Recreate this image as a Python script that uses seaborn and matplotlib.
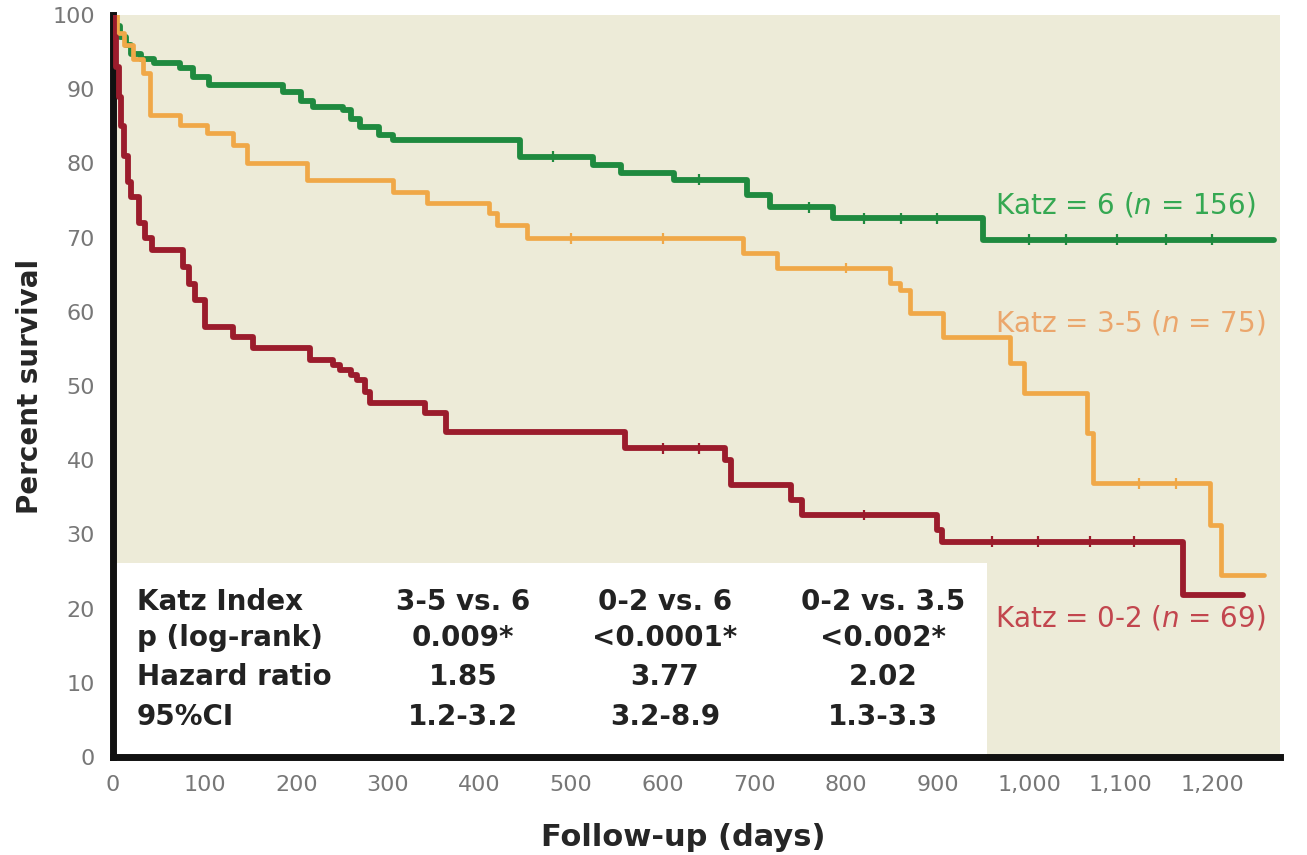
import matplotlib
matplotlib.use("Agg")
import matplotlib.pyplot as plt
import numpy as np
import pandas as pd
import seaborn as sns
from matplotlib.patches import Rectangle

# Kaplan-Meier step data (days, percent survival)
katz6_days = [0, 3, 8, 14, 20, 30, 45, 73, 87, 105, 185, 205, 218, 251, 260, 270,
              290, 306, 444, 524, 554, 612, 692, 717, 786, 950, 1267]
katz6_surv = [100, 98.5, 97, 96, 94.8, 94, 93.5, 92.9, 91.6, 90.6, 89.6, 88.4, 87.6,
              87.2, 86, 84.9, 83.8, 83.2, 80.9, 79.8, 78.7, 77.8, 75.7, 74.1, 72.6,
              69.7, 69.7]

katz35_days = [0, 4, 12, 22, 33, 40, 73, 103, 131, 146, 212, 306, 343, 410, 419, 452,
               688, 725, 848, 859, 870, 906, 979, 994, 1063, 1070, 1198, 1209, 1256]
katz35_surv = [100, 97.6, 96, 94, 92.2, 86.5, 85.2, 84.1, 82.5, 80.1, 77.8, 76.1, 74.7,
               73.3, 71.7, 69.9, 67.9, 65.9, 63.9, 62.9, 59.8, 56.6, 53.1, 49.1, 43.7,
               36.9, 31.3, 24.5, 24.5]

katz02_days = [0, 1, 3, 6, 9, 12, 16, 20, 28, 35, 42, 76, 83, 90, 100, 131, 153, 215,
               240, 248, 260, 266, 275, 281, 340, 363, 559, 668, 675, 740, 752, 900,
               905, 1168, 1234]
katz02_surv = [100, 97, 93, 89, 85, 81, 77.5, 75.5, 72, 70, 68.3, 66, 63.8, 61.6, 58.0,
               56.6, 55.1, 53.5, 52.8, 52.2, 51.5, 50.8, 49.2, 47.7, 46.4, 43.8, 41.6,
               40.0, 36.7, 34.6, 32.6, 30.6, 29.0, 21.8, 21.8]

# censoring marks (days)
katz6_cens = [480, 640, 760, 820, 860, 900, 1000, 1040, 1096, 1150, 1200]
katz35_cens = [500, 600, 800, 1120, 1160]
katz02_cens = [600, 640, 820, 960, 1010, 1067, 1114]

groups = ["Katz = 6", "Katz = 3-5", "Katz = 0-2"]
curve_labels = ["Katz = 6 ($n$ = 156)", "Katz = 3-5 ($n$ = 75)", "Katz = 0-2 ($n$ = 69)"]
label_y = [74.4, 58.5, 18.7]

line_colors = ["#1f8a3f", "#f0a848", "#9b1c2c"]
line_widths = [4.2, 3.4, 4.2]
text_colors = ["#35a852", "#eba66c", "#c2464e"]

table_header = ["Katz Index", "3-5 vs. 6", "0-2 vs. 6", "0-2 vs. 3.5"]
table_rows = [
    ["p (log-rank)", "0.009*", "<0.0001*", "<0.002*"],
    ["Hazard ratio", "1.85", "3.77", "2.02"],
    ["95%CI", "1.2-3.2", "3.2-8.9", "1.3-3.3"],
]

x_ticks = list(range(0, 1300, 100))
x_ticklabels = ["0", "100", "200", "300", "400", "500", "600", "700", "800", "900",
                "1,000", "1,100", "1,200"]
y_ticks = list(range(0, 110, 10))

all_days = [katz6_days, katz35_days, katz02_days]
all_surv = [katz6_surv, katz35_surv, katz02_surv]
all_cens = [katz6_cens, katz35_cens, katz02_cens]

df = pd.concat([
    pd.DataFrame({"group": g, "days": d, "survival": s})
    for g, d, s in zip(groups, all_days, all_surv)
], ignore_index=True)


def step_value(days, surv, t):
    idx = np.searchsorted(days, t, side="right") - 1
    return np.asarray(surv)[idx]


cens = pd.concat([
    pd.DataFrame({"group": g, "days": c, "survival": step_value(d, s, c)})
    for g, d, s, c in zip(groups, all_days, all_surv, all_cens)
], ignore_index=True)

sns.set_style("white")
plt.rcParams["font.family"] = ["DejaVu Sans"]

fig = plt.figure(figsize=(13.07, 8.55), dpi=100)
ax = fig.add_axes([0.0865, 0.1146, 0.8929, 0.8679])
ax.set_facecolor("#edebd8")

palette = dict(zip(groups, line_colors))
sns.lineplot(data=df, x="days", y="survival", hue="group", hue_order=groups,
             palette=palette, estimator=None, sort=False,
             drawstyle="steps-post", linewidth=3.5, legend=False, ax=ax, zorder=3)
for line, lw in zip(ax.lines, line_widths):
    line.set_linewidth(lw)

sns.scatterplot(data=cens, x="days", y="survival", hue="group", hue_order=groups,
                palette=palette, marker="|", s=60, linewidth=1.6, legend=False,
                ax=ax, zorder=4)

# white box behind the statistics table
ax.add_patch(Rectangle((0, 0), 0.749, 0.261, transform=ax.transAxes,
                       facecolor="white", edgecolor="none", zorder=2))

col_x = [0.0206, 0.300, 0.473, 0.660]
row_y = [0.209, 0.160, 0.108, 0.054]
for r, row in enumerate([table_header] + table_rows):
    for c, txt in enumerate(row):
        ax.text(col_x[c], row_y[r], txt, transform=ax.transAxes,
                ha="left" if c == 0 else "center", va="center",
                fontsize=20, fontweight="bold", color="#222222", zorder=5)

for lbl, yv, col in zip(curve_labels, label_y, text_colors):
    ax.text(963, yv, lbl, ha="left", va="center", fontsize=20, color=col, zorder=5)

ax.set_xlim(0, 1274)
ax.set_ylim(0, 100)
ax.set_xticks(x_ticks)
ax.set_xticklabels(x_ticklabels)
ax.set_yticks(y_ticks)
ax.tick_params(axis="both", direction="out", length=8, width=1.6, color="#333333",
               labelsize=16, labelcolor="#777777", pad=5)

for side in ["top", "right"]:
    ax.spines[side].set_visible(False)
for side in ["left", "bottom"]:
    ax.spines[side].set_linewidth(5)
    ax.spines[side].set_color("#111111")

ax.set_xlabel("Follow-up (days)", fontsize=22, fontweight="bold", va="center")
ax.xaxis.set_label_coords(0.489, -0.109)
ax.set_ylabel("Percent survival", fontsize=20, fontweight="bold", va="center")
ax.yaxis.set_label_coords(-0.071, 0.5)

fig.savefig("out.png", dpi=100, facecolor="white")
